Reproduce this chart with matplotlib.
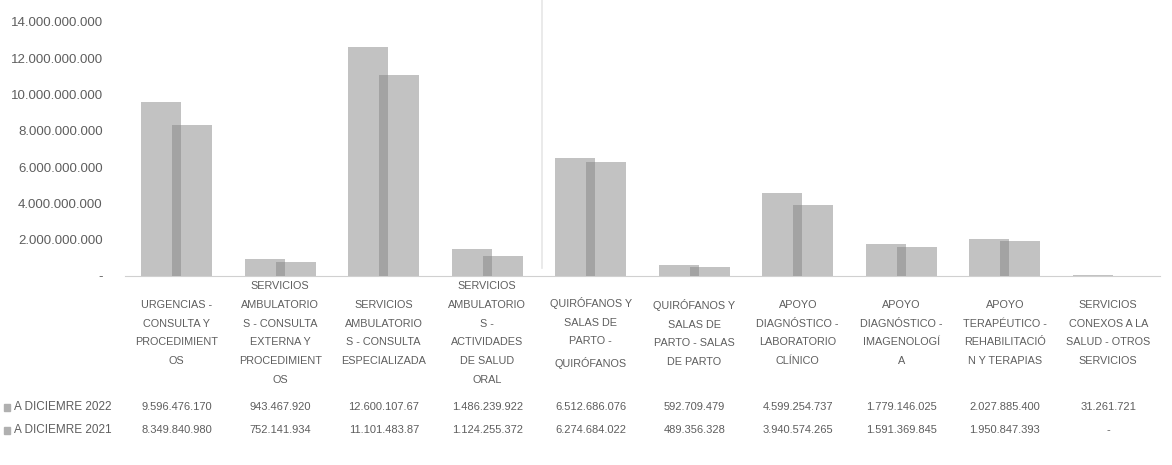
import matplotlib
matplotlib.use("Agg")
import matplotlib.pyplot as plt
import matplotlib.transforms as mtransforms
from matplotlib.lines import Line2D
from matplotlib.patches import Rectangle
import numpy as np

plt.rcParams['font.family'] = ['Liberation Sans Narrow', 'Liberation Sans', 'DejaVu Sans']

categorias = [
    "URGENCIAS -\nCONSULTA Y\nPROCEDIMIENT\nOS",
    "SERVICIOS\nAMBULATORIO\nS - CONSULTA\nEXTERNA Y\nPROCEDIMIENT\nOS",
    "SERVICIOS\nAMBULATORIO\nS - CONSULTA\nESPECIALIZADA",
    "SERVICIOS\nAMBULATORIO\nS -\nACTIVIDADES\nDE SALUD\nORAL",
    "QUIRÓFANOS Y\nSALAS DE\nPARTO -\nQUIRÓFANOS",
    "QUIRÓFANOS Y\nSALAS DE\nPARTO - SALAS\nDE PARTO",
    "APOYO\nDIAGNÓSTICO -\nLABORATORIO\nCLÍNICO",
    "APOYO\nDIAGNÓSTICO -\nIMAGENOLOGÍ\nA",
    "APOYO\nTERAPÉUTICO -\nREHABILITACIÓ\nN Y TERAPIAS",
    "SERVICIOS\nCONEXOS A LA\nSALUD - OTROS\nSERVICIOS",
]
series = ["A DICIEMRE 2022", "A DICIEMRE 2021"]
dic_2022 = [9596476170, 943467920, 12600107670, 1486239922, 6512686076,
            592709479, 4599254737, 1779146025, 2027885400, 31261721]
dic_2021 = [8349840980, 752141934, 11101483870, 1124255372, 6274684022,
            489356328, 3940574265, 1591369845, 1950847393, 0]
yticks = [0, 2e9, 4e9, 6e9, 8e9, 10e9, 12e9, 14e9]

txt = '#5e5e5e'
bar_col = '#c2c2c2'
overlap_col = '#a3a3a3'


def fmt(v, cut=None):
    # excel style: dot thousands, dash for zero
    if v == 0:
        return "-"
    s = f"{int(v):,}".replace(",", ".")
    return s[:cut] if cut else s


fig = plt.figure(figsize=(11.72, 4.65), dpi=100)
W, H = 1172, 465
ax = fig.add_axes([125 / W, 1 - 276 / H, 1035 / W, (276 - 22) / H])

x = np.arange(len(categorias))
w = 0.39
off = 0.15
ax.bar(x - off, dic_2022, width=w, color=bar_col, zorder=2)
ax.bar(x + off, dic_2021, width=w, color=bar_col, zorder=3)
# darker strip where the two bars overlap
ov_l = x + off - w / 2
ov_r = x - off + w / 2
ax.bar((ov_l + ov_r) / 2, np.minimum(dic_2022, dic_2021), width=ov_r - ov_l,
       color=overlap_col, zorder=4)

ax.set_xlim(-0.5, len(categorias) - 0.5)
ax.set_ylim(0, 14e9)
ax.set_yticks(yticks)
ax.set_yticklabels([fmt(v) for v in yticks], color=txt, fontsize=9.5)
ax.tick_params(axis='y', length=0, pad=16)
ax.set_xticks([])
for s in ['top', 'right', 'left']:
    ax.spines[s].set_visible(False)
ax.spines['bottom'].set_color('#d0d0d0')

# data table under the plot
tr = mtransforms.blended_transform_factory(ax.transData, fig.transFigure)
for i, c in enumerate(categorias):
    ax.text(i, 1 - 333 / H, c, transform=tr, ha='center', va='center',
            fontsize=7.8, color=txt, linespacing=2.08, clip_on=False)

rows_y = [1 - 407 / H, 1 - 430 / H]
for vals, ry, name in zip([dic_2022, dic_2021], rows_y, series):
    for i, v in enumerate(vals):
        # the table column cuts long numbers short
        ax.text(i, ry, fmt(v, 13), transform=tr, ha='center', va='center',
                fontsize=8, color=txt, clip_on=False)
    fig.text(14 / W, ry, name, ha='left', va='center', fontsize=8.5, color=txt)
    fig.add_artist(Rectangle((4 / W, ry - 3.5 / H), 6 / W, 7 / H,
                             transform=fig.transFigure, color='#b0b0b0'))

# faint fold mark across the sheet
fig.add_artist(Line2D([542 / W, 542 / W], [1 - 268 / H, 1.0],
                      transform=fig.transFigure, color='#e6e6e6', lw=1.2))

fig.savefig("out.png", dpi=100)
